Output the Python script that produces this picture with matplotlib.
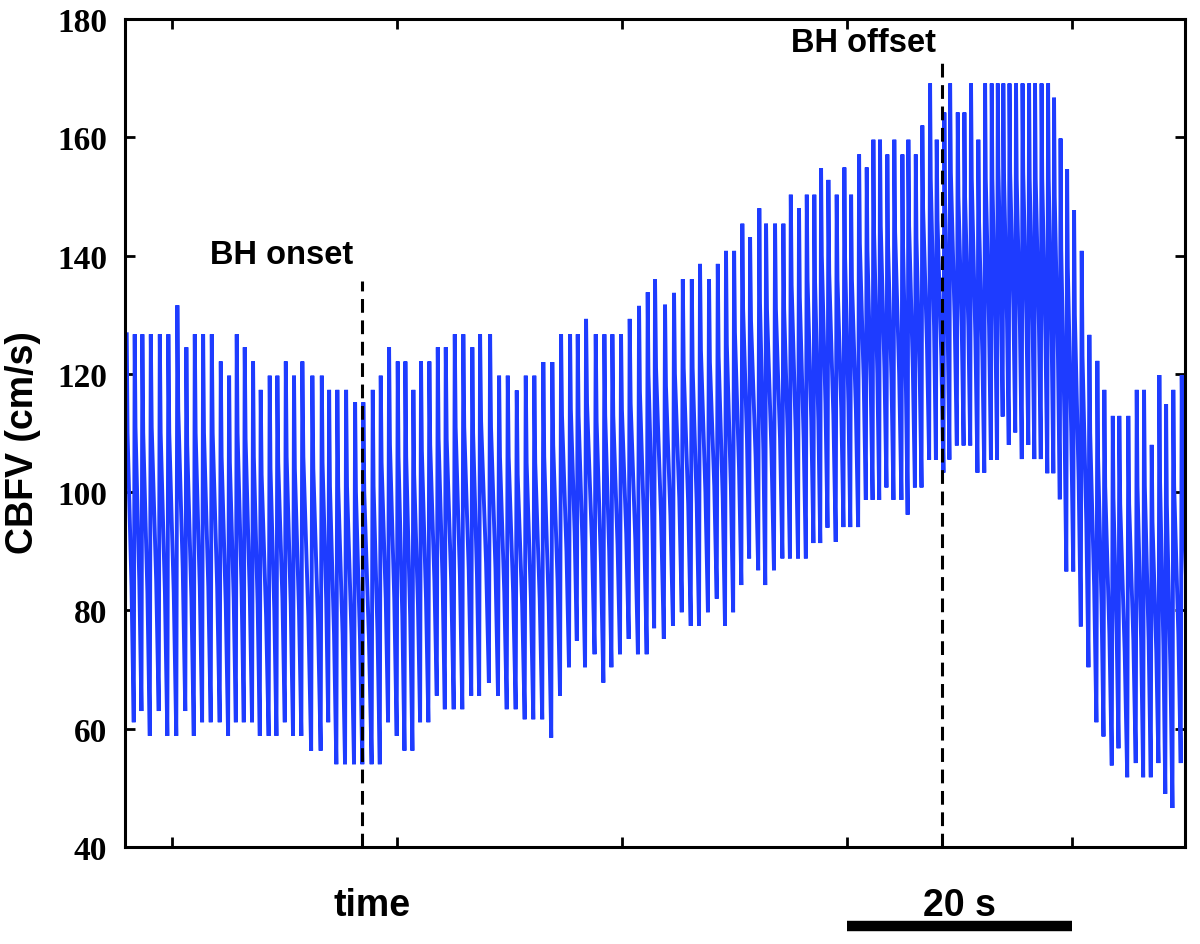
import numpy as np
import matplotlib.pyplot as plt

# beat times (s) and per-beat CBFV samples (cm/s)
beat_t = [-4.03, -3.32, -2.64, -1.89, -1.09, -0.33, 0.47, 1.27, 2.02, 2.76, 3.53, 4.33, 5.07, 5.75, 6.46, 7.20, 7.88, 8.68, 9.36, 10.11, 10.84, 11.58,
          12.47, 13.31, 13.96, 14.69, 15.47, 16.27, 17.00, 17.84, 18.55, 19.29, 20.06, 20.74, 21.45, 22.13, 22.87, 23.62, 24.33, 25.13, 25.89, 26.69, 27.38,
          28.27, 29.07, 29.84, 30.64, 31.44, 32.20, 33.00, 33.80, 34.58, 35.38, 36.06, 36.80, 37.66, 38.43, 39.14, 39.91, 40.68, 41.51, 42.28, 42.93,
          43.82, 44.62, 45.40, 46.20, 46.93, 47.73, 48.51, 49.24, 49.96, 50.69, 51.38, 52.20, 52.80, 53.60, 54.34, 55.00, 55.73, 56.42, 57.09, 57.69, 58.34,
          59.08, 59.76, 60.36, 61.07, 61.75, 62.34, 62.93, 63.58, 64.20, 64.92, 65.45, 66.11, 66.69, 67.38, 67.97, 68.65, 69.16, 69.84, 70.43, 71.02, 71.67, 72.27, 72.86, 73.40, 73.89,
          74.44, 75.02, 75.60, 76.18, 76.71, 77.29, 77.87, 78.40, 78.98, 79.56, 80.18, 80.86, 81.54, 82.25, 82.87, 83.62, 84.20, 85.00, 85.75, 86.40, 87.08, 87.76, 88.36, 89.00, 89.75]

systolic = [126.7, 126.7, 126.7, 126.7, 126.7, 126.7, 131.6, 124.5, 126.7, 126.7, 126.7, 122.1, 119.7, 126.7, 124.5, 122.1, 117.3, 119.7, 119.7, 122.1, 119.7, 122.1,
            119.7, 119.7, 117.3, 117.3, 117.3, 115.2, 115.2, 117.3, 119.7, 124.5, 122.1, 122.1, 117.3, 122.1, 122.1, 124.5, 124.5, 126.7, 126.7, 124.5, 126.7,
            126.7, 119.7, 119.7, 117.2, 119.7, 119.7, 122.0, 122.0, 126.7, 126.7, 126.7, 129.3, 126.7, 126.7, 126.7, 126.7, 129.3, 131.5, 133.8, 136.0,
            131.7, 133.7, 136.0, 136.0, 138.6, 136.0, 138.6, 140.8, 140.8, 145.4, 143.1, 148.0, 145.4, 145.4, 145.4, 150.3, 148.0, 150.3, 150.3, 154.8, 152.8,
            150.3, 154.9, 150.3, 157.1, 154.9, 159.6, 159.6, 157.1, 159.6, 157.1, 159.6, 157.1, 162.0, 169.1, 159.6, 164.2, 169.1, 164.2, 164.2, 169.1, 159.6, 169.1, 169.1, 169.1, 169.1,
            169.1, 169.1, 169.1, 169.1, 169.1, 169.1, 169.1, 166.7, 159.8, 154.6, 147.7, 140.8, 126.6, 122.2, 117.3, 112.9, 112.9, 112.9, 117.3, 117.3, 108.0, 119.8, 114.9, 117.3, 119.8]

shoulder = [110, 111, 110, 111, 110, 110, 114, 108, 110, 110, 110, 106, 105, 110, 109, 106, 103, 104, 105, 106, 104, 106,
            104, 105, 101, 101, 101, 100, 100, 101, 105, 108, 106, 106, 103, 107, 108, 109, 109, 111, 111, 110, 112,
            111, 106, 106, 103, 105, 105, 106, 108, 113, 114, 113, 115, 112, 113, 113, 114, 115, 117, 120, 121,
            118, 120, 121, 121, 124, 122, 123, 125, 127, 131, 129, 132, 131, 131, 131, 135, 133, 136, 136, 140, 137,
            136, 140, 136, 142, 141, 144, 145, 142, 144, 142, 145, 143, 148, 153, 146, 150, 154, 150, 150, 153, 146, 153, 153, 155, 154,
            154, 153, 154, 153, 153, 153, 153, 150, 141, 138, 130, 123, 110, 106, 101, 99, 98, 98, 101, 101, 95, 102, 98, 101, 105]

late = [84, 85, 83, 85, 83, 83, 87, 82, 84, 84, 84, 81, 82, 84, 83, 81, 79, 80, 82, 81, 80, 79,
        78, 82, 76, 76, 76, 75, 75, 76, 82, 82, 79, 79, 81, 82, 85, 85, 85, 86, 87, 86, 88,
        87, 83, 83, 81, 82, 82, 81, 85, 90, 93, 90, 92, 88, 90, 91, 93, 92, 93, 97, 96,
        96, 99, 98, 98, 100, 101, 99, 101, 104, 109, 106, 107, 107, 109, 109, 110, 109, 112, 112, 115, 113,
        114, 115, 114, 119, 118, 120, 121, 119, 120, 117, 121, 120, 125, 128, 123, 126, 129, 128, 128, 126, 123, 128, 128, 132, 129,
        131, 128, 129, 128, 128, 126, 126, 123, 112, 110, 102, 95, 84, 81, 76, 76, 73, 75, 75, 75, 73, 74, 70, 76, 81]

diastolic = [61.1, 63.0, 58.8, 63.0, 58.8, 58.8, 63.0, 58.8, 61.1, 61.1, 61.1, 58.8, 61.1, 61.1, 61.1, 58.8, 58.8, 58.8, 61.1, 58.8, 58.8, 56.3,
             56.3, 61.1, 54.0, 54.0, 54.0, 54.0, 54.0, 54.0, 61.1, 58.8, 56.3, 56.3, 61.1, 61.1, 65.6, 63.3, 63.3, 63.3, 65.6, 65.6, 67.8,
             65.6, 63.3, 63.3, 61.6, 61.6, 61.6, 58.5, 65.6, 70.4, 74.9, 70.4, 72.6, 67.8, 70.4, 72.6, 75.2, 72.6, 72.6, 77.0, 75.2,
             77.4, 79.7, 77.4, 77.4, 79.7, 82.0, 77.4, 79.7, 84.3, 88.8, 86.8, 84.3, 86.8, 88.8, 88.8, 88.8, 88.8, 91.4, 91.4, 94.0, 91.6,
             94.1, 94.1, 94.1, 98.7, 98.7, 98.7, 100.8, 98.7, 98.7, 96.2, 100.8, 100.8, 105.5, 105.5, 103.3, 105.5, 107.9, 107.9, 107.9, 103.3, 103.3, 105.5, 105.5, 112.8, 108.0,
             110.1, 105.6, 108.0, 105.6, 105.6, 103.2, 103.2, 98.8, 86.6, 86.6, 77.3, 70.4, 61.1, 58.7, 53.8, 56.7, 51.8, 54.2, 51.8, 51.8, 54.2, 49.0, 46.6, 54.2, 60.0]

yticks = [40, 60, 80, 100, 120, 140, 160, 180]
xticks = [0, 20, 40, 60, 80]

bh_onset, bh_onset_top = 16.86, 135.7
bh_offset, bh_offset_top = 68.44, 173.7
scale_bar = (60, 80)

blue = '#1e3cff'
sans = ['Liberation Sans', 'Arial', 'DejaVu Sans']
serif = ['Liberation Serif', 'Times New Roman', 'DejaVu Serif']

fig = plt.figure(figsize=(12, 9.45), dpi=100)
ax = fig.add_axes([0.1042, 0.1026, 0.8833, 0.8762])

# one beat = peak, shoulder, late diastole, end-diastole
d = np.diff(beat_t)
d = np.append(d, d[-1])
tt, vv = [], []
for k in range(len(beat_t)):
    t0 = beat_t[k]
    tt += [t0, t0 + 0.1 * d[k], t0 + 0.6 * d[k], t0 + 0.88 * d[k]]
    vv += [systolic[k], shoulder[k], late[k], diastolic[k]]
ax.plot(tt, vv, color=blue, lw=2.8, solid_joinstyle='bevel', zorder=2)

# breath-hold markers
ax.plot([bh_onset, bh_onset], [40, bh_onset_top], color='k', lw=2.2, dashes=(4.5, 2.5), zorder=3)
ax.plot([bh_offset, bh_offset], [40, bh_offset_top], color='k', lw=2.2, dashes=(4.5, 2.5), zorder=3)
ax.text(bh_onset - 7.1, bh_onset_top + 1.9, 'BH onset', ha='center', va='bottom',
        fontsize=23.5, fontweight='bold', family=sans)
ax.text(bh_offset - 7.0, bh_offset_top - 0.3, 'BH offset', ha='center', va='bottom',
        fontsize=23.5, fontweight='bold', family=sans)

ax.set_xlim(-4.18, 90.04)
ax.set_ylim(40, 180)
ax.set_xticks(xticks)
ax.set_xticklabels([])
ax.set_yticks(yticks)
ax.set_yticklabels([str(v) for v in yticks], fontsize=24, fontweight='bold', family=serif)
ax.tick_params(direction='in', length=7, width=2, top=True, right=True, pad=13)
for s in ax.spines.values():
    s.set_linewidth(2.2)

ax.set_ylabel('CBFV (cm/s)', fontsize=27, fontweight='bold', family=sans)
ax.yaxis.set_label_coords(-0.079, 0.49)

# time label and 20 s scale bar under the axis
xt = ax.get_xaxis_transform()
ax.text(17.8, -0.07, 'time', transform=xt, ha='center', va='center',
        fontsize=27, fontweight='bold', family=sans)
ax.text(sum(scale_bar) / 2, -0.07, '20 s', transform=xt, ha='center', va='center',
        fontsize=27, fontweight='bold', family=sans)
ax.plot(scale_bar, [-0.0954, -0.0954], transform=xt, color='k', lw=7.5,
        solid_capstyle='butt', clip_on=False)

fig.savefig('out.png', dpi=100)
